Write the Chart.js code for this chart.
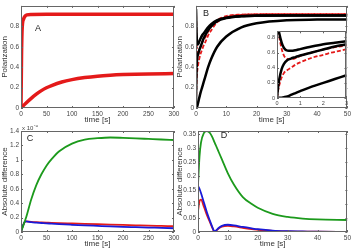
<!DOCTYPE html>
<html>
<head>
<meta charset="utf-8">
<script src="https://cdn.jsdelivr.net/npm/chart.js@4.4.0/dist/chart.umd.min.js"></script>
<style>
  body { margin: 0; background: #fff; width: 353px; height: 251px; overflow: hidden; position: relative; }
  .p { position: absolute; }
  canvas { display: block; }
</style>
</head>
<body>
<div class="p" style="left:0;top:0"><canvas id="chartA" width="182" height="125"></canvas></div>
<div class="p" style="left:175px;top:0"><canvas id="chartB" width="178" height="125"></canvas></div>
<div class="p" style="left:262px;top:26px"><canvas id="chartInset" width="88" height="82"></canvas></div>
<div class="p" style="left:0;top:125px"><canvas id="chartC" width="182" height="126"></canvas></div>
<div class="p" style="left:175px;top:125px"><canvas id="chartD" width="178" height="126"></canvas></div>
<script>
// panel A
const tA_fast = [0, 1, 2, 3, 5, 8, 12, 20, 50, 100, 200, 300];
const polA_fast = [0, 0.5, 0.75, 0.83, 0.87, 0.9, 0.912, 0.916, 0.917, 0.917, 0.917, 0.917];
const tA_slow = [0, 10, 20, 30, 40, 50, 60, 80, 100, 125, 150, 175, 200, 250, 300];
const polA_slow = [0, 0.05, 0.095, 0.135, 0.17, 0.198, 0.22, 0.255, 0.278, 0.298, 0.312, 0.321, 0.327, 0.334, 0.337];

// panel B (and inset)
const tB = [0, 0.05, 0.1, 0.2, 0.3, 0.45, 0.6, 0.8, 1, 1.5, 2, 2.5, 3, 4, 5, 7, 10, 15, 20, 30, 40, 50];
const polB_blackTop = [0.97, 0.93, 0.85, 0.73, 0.66, 0.625, 0.622, 0.63, 0.645, 0.68, 0.71, 0.73, 0.75, 0.79, 0.82, 0.86, 0.885, 0.9, 0.905, 0.907, 0.907, 0.907];
const polB_blackRise = [0, 0.15, 0.25, 0.38, 0.45, 0.5, 0.52, 0.54, 0.56, 0.6, 0.64, 0.68, 0.71, 0.76, 0.8, 0.85, 0.88, 0.898, 0.904, 0.907, 0.907, 0.907];
const polB_blackSlow = [0, 0, 0.002, 0.005, 0.01, 0.02, 0.04, 0.065, 0.09, 0.15, 0.2, 0.25, 0.3, 0.4, 0.48, 0.6, 0.7, 0.79, 0.83, 0.86, 0.866, 0.868];
const polB_redTop = [0.97, 0.9, 0.8, 0.65, 0.56, 0.515, 0.51, 0.525, 0.555, 0.6, 0.64, 0.67, 0.69, 0.75, 0.8, 0.86, 0.9, 0.915, 0.918, 0.92, 0.92, 0.92];
const polB_redRise = [0, 0.1, 0.17, 0.27, 0.33, 0.37, 0.4, 0.44, 0.47, 0.53, 0.57, 0.61, 0.64, 0.71, 0.76, 0.84, 0.89, 0.912, 0.917, 0.92, 0.92, 0.92];

// panel C (x 10^-3)
const tC = [0, 3, 8, 10, 20, 30, 40, 50, 60, 75, 100, 125, 150, 175, 200, 225, 250, 275, 300];
const diffC_green = [0, 0.06, 0.16, 0.2, 0.45, 0.65, 0.8, 0.92, 1.01, 1.12, 1.225, 1.28, 1.3, 1.31, 1.305, 1.298, 1.29, 1.282, 1.275];
const diffC_red = [0, 0.07, 0.145, 0.146, 0.14, 0.136, 0.133, 0.13, 0.127, 0.123, 0.118, 0.113, 0.108, 0.103, 0.098, 0.093, 0.088, 0.084, 0.08];
const diffC_blue = [0, 0.07, 0.145, 0.146, 0.136, 0.13, 0.125, 0.12, 0.116, 0.109, 0.1, 0.092, 0.085, 0.078, 0.072, 0.067, 0.062, 0.057, 0.052];

// panel D
const tD = [0, 0.5, 1, 2, 3, 4, 5, 5.5, 6, 7, 8, 10, 12, 15, 18, 20, 25, 30, 35, 40, 50];
const diffD_green = [0.17, 0.27, 0.32, 0.355, 0.362, 0.355, 0.335, 0.322, 0.31, 0.285, 0.26, 0.21, 0.17, 0.125, 0.1, 0.087, 0.065, 0.054, 0.048, 0.045, 0.043];
const diffD_blue = [0.165, 0.155, 0.14, 0.105, 0.07, 0.04, 0.012, 0.002, 0.005, 0.015, 0.022, 0.026, 0.024, 0.018, 0.013, 0.01, 0.005, 0.003, 0.002, 0.001, 0];
const diffD_red = [0.075, 0.11, 0.116, 0.09, 0.06, 0.035, 0.01, 0.001, 0.004, 0.013, 0.019, 0.022, 0.02, 0.015, 0.01, 0.008, 0.004, 0.002, 0.001, 0.001, 0];

const RED = '#e41a1a', GREEN = '#1c9a1c', BLUE = '#1a1ad8';
Chart.defaults.font.family = '"Liberation Sans", Arial, sans-serif';
Chart.defaults.color = '#444';

const pts = (xs, ys) => xs.map((x, i) => ({x: x, y: ys[i]}));

// box around the plot, inward tick marks, panel letter
const framePlugin = {
  id: 'frame',
  beforeDatasetsDraw(chart, args, opts) {
    if (!opts.fill) return;
    const a = chart.chartArea, ctx = chart.ctx;
    ctx.save();
    ctx.fillStyle = '#fff';
    ctx.fillRect(a.left, a.top, a.right - a.left, a.bottom - a.top);
    ctx.restore();
  },
  afterDatasetsDraw(chart, args, opts) {
    const ctx = chart.ctx, a = chart.chartArea;
    const x = chart.scales.x, y = chart.scales.y;
    ctx.save();
    ctx.strokeStyle = '#666';
    ctx.lineWidth = 1;
    ctx.strokeRect(Math.round(a.left) + 0.5, Math.round(a.top) + 0.5,
      Math.round(a.right - a.left) - 1, Math.round(a.bottom - a.top) - 1);
    ctx.beginPath();
    x.ticks.forEach(t => {
      const px = Math.round(x.getPixelForValue(t.value)) + 0.5;
      ctx.moveTo(px, a.bottom); ctx.lineTo(px, a.bottom - 2);
      ctx.moveTo(px, a.top); ctx.lineTo(px, a.top + 2);
    });
    y.ticks.forEach(t => {
      const py = Math.round(y.getPixelForValue(t.value)) + 0.5;
      ctx.moveTo(a.left, py); ctx.lineTo(a.left + 2, py);
      ctx.moveTo(a.right, py); ctx.lineTo(a.right - 2, py);
    });
    ctx.stroke();
    if (opts.letter) {
      ctx.fillStyle = '#222';
      ctx.font = '9px "Liberation Sans", Arial, sans-serif';
      ctx.textAlign = 'center';
      ctx.textBaseline = 'middle';
      ctx.fillText(opts.letter, opts.lx, opts.ly);
    }
    if (opts.exponent) {
      ctx.fillStyle = '#444';
      ctx.textAlign = 'left';
      ctx.textBaseline = 'alphabetic';
      ctx.font = '6px "Liberation Sans", Arial, sans-serif';
      ctx.fillText('x 10', a.left + 1, a.top - 1);
      ctx.font = '4.5px "Liberation Sans", Arial, sans-serif';
      ctx.fillText('-3', a.left + 13, a.top - 4);
    }
    ctx.restore();
  }
};

function line(data, color, width, dash) {
  return {
    data: data, borderColor: color, backgroundColor: color, borderWidth: width,
    borderDash: dash || [], pointRadius: 0, fill: false,
    cubicInterpolationMode: 'monotone'
  };
}

const tidy = v => String(+v.toFixed(3));

function makeChart(id, datasets, o) {
  return new Chart(document.getElementById(id), {
    type: 'line',
    data: { datasets: datasets },
    plugins: [framePlugin],
    options: {
      responsive: false, animation: false, devicePixelRatio: 1,
      layout: { padding: o.padding },
      plugins: { legend: { display: false }, tooltip: { enabled: false }, frame: o.frame },
      scales: {
        x: {
          type: 'linear', min: o.xmin, max: o.xmax,
          grid: { display: false, drawTicks: false }, border: { display: false },
          ticks: { stepSize: o.xstep, font: { size: o.tickSize }, padding: 2, maxRotation: 0, includeBounds: false, callback: tidy },
          title: { display: !!o.xtitle, text: o.xtitle, font: { size: 8 }, color: '#333', padding: { top: 0, bottom: o.xtitlePad || 0 } },
          afterFit: s => { s.height = o.xh; }
        },
        y: {
          min: o.ymin, max: o.ymax,
          grid: { display: false, drawTicks: false }, border: { display: false },
          ticks: {
            stepSize: o.ystep, font: { size: o.tickSize }, padding: 2, includeBounds: false,
            callback: o.ylabel || tidy
          },
          title: { display: !!o.ytitle, text: o.ytitle, font: { size: 8 }, color: '#333', padding: 0 },
          afterFit: s => { s.width = o.yw; }
        }
      }
    }
  });
}

const hideTop = lim => (v => v > lim ? '' : tidy(v));

makeChart('chartA', [
  line(pts(tA_fast, polA_fast), RED, 3.5),
  line(pts(tA_slow, polA_slow), RED, 3.5),
  line(pts(tA_fast, polA_fast), '#000', 1.5, [1.5, 1.5]),
  line(pts(tA_slow, polA_slow), '#000', 1.5, [1.5, 1.5])
], { padding: { top: 5, right: 8 }, xmin: 0, xmax: 300, xstep: 50, ymin: 0, ymax: 1, ystep: 0.2,
     ylabel: hideTop(0.85), tickSize: 6.5, xtitle: 'time [s]', ytitle: 'Polarization', xh: 17, yw: 21,
     frame: { letter: 'A', lx: 38, ly: 29 } });

const datasetsB = () => [
  line(pts(tB, polB_blackSlow), '#000', 2.5),
  line(pts(tB, polB_blackTop), '#000', 2.5),
  line(pts(tB, polB_blackRise), '#000', 2.5),
  line(pts(tB, polB_redTop), RED, 1.8, [4, 2]),
  line(pts(tB, polB_redRise), RED, 1.8, [4, 2])
];

makeChart('chartB', datasetsB(),
   { padding: { top: 5, right: 4 }, xmin: 0, xmax: 50, xstep: 10, ymin: 0, ymax: 1, ystep: 0.2,
     ylabel: hideTop(0.85), tickSize: 6.5, xtitle: 'time [s]', ytitle: 'Polarization', xh: 17, yw: 21,
     frame: { letter: 'B', lx: 31, ly: 14 } });

makeChart('chartInset', datasetsB(),
   { padding: { top: 3, right: 2 }, xmin: 0, xmax: 3, xstep: 1, ymin: 0, ymax: 0.88, ystep: 0.2,
     tickSize: 5.5, xh: 10, yw: 15, frame: { fill: true } });

makeChart('chartC', [
  line(pts(tC, diffC_green), GREEN, 1.8),
  line(pts(tC, diffC_blue), BLUE, 1.8),
  line(pts(tC, diffC_red), RED, 1.8)
], { padding: { top: 6, right: 8 }, xmin: 0, xmax: 300, xstep: 50, ymin: 0, ymax: 1.4, ystep: 0.2,
     tickSize: 6.5, xtitle: 'time [s]', ytitle: 'Absolute difference', xh: 19, yw: 21, xtitlePad: 2,
     frame: { letter: 'C', lx: 30, ly: 14, exponent: true } });

makeChart('chartD', [
  line(pts(tD, diffD_green), GREEN, 1.8),
  line(pts(tD, diffD_blue), BLUE, 1.8),
  line(pts(tD, diffD_red), RED, 1.8)
], { padding: { top: 6, right: 5 }, xmin: 0, xmax: 50, xstep: 10, ymin: 0, ymax: 0.362, ystep: 0.05,
     tickSize: 6.5, xtitle: 'time [s]', ytitle: 'Absolute difference', xh: 19, yw: 23, xtitlePad: 2,
     frame: { letter: 'D', lx: 49, ly: 11 } });
</script>
</body>
</html>
